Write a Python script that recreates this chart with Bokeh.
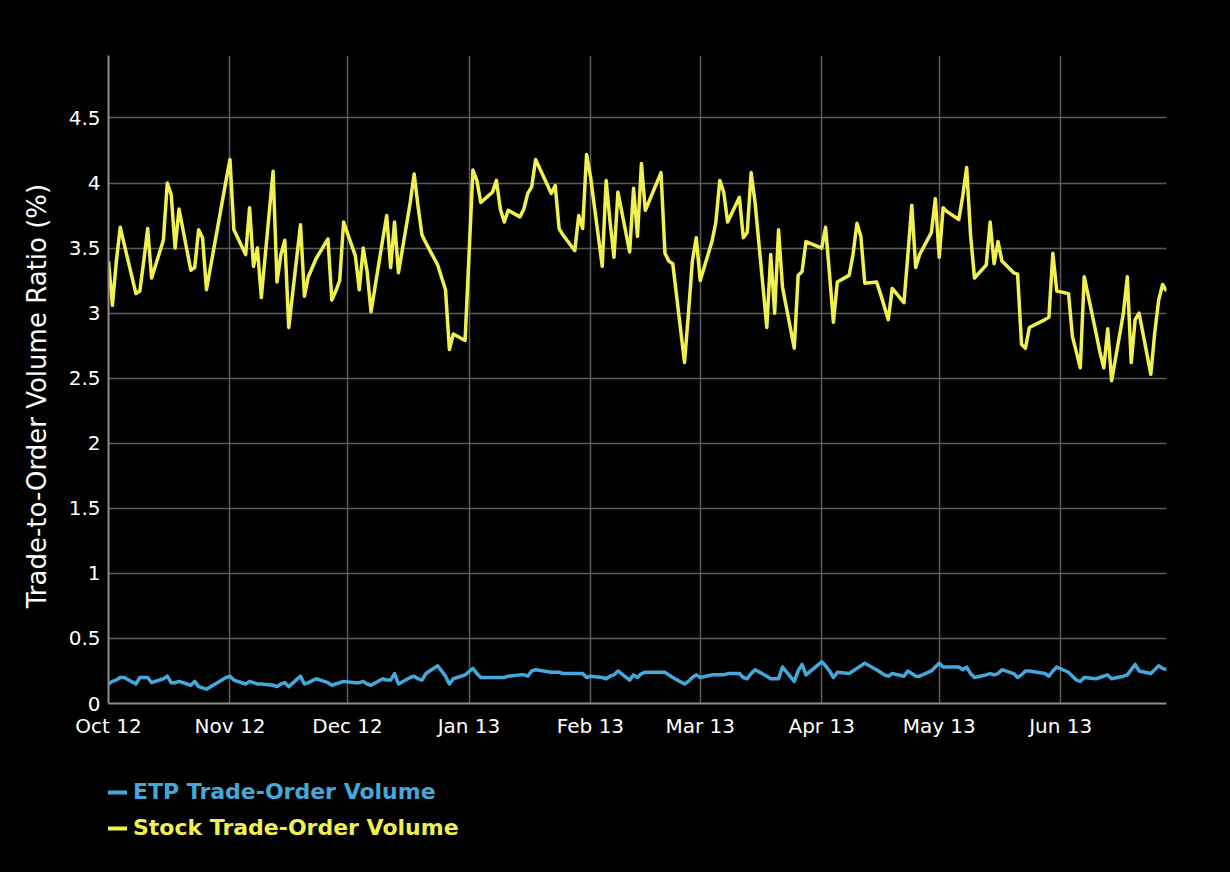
from datetime import datetime
import pandas as pd
from bokeh.plotting import figure
from bokeh.layouts import column
from bokeh.models import (Range1d, FixedTicker, CustomJSTickFormatter, Legend, LegendItem,
                          ColumnDataSource)
from bokeh.embed import file_html
from bokeh.resources import INLINE

# ---------------- data ----------------
closed_days = ["2012-10-29", "2012-10-30", "2012-11-22", "2012-12-25", "2013-01-01",
               "2013-01-21", "2013-02-18", "2013-03-29", "2013-05-27"]
trade_dates = [d for d in pd.bdate_range("2012-10-01", "2013-06-28")
               if d.strftime("%Y-%m-%d") not in closed_days]

stock_oct = [3.40, 3.06, 3.40, 3.66, 3.53, 3.15, 3.17, 3.40, 3.65, 3.27, 3.56, 4.00, 3.91, 3.50, 3.80,
             3.33, 3.35, 3.64, 3.58, 3.18, 4.02]
stock_nov = [4.18, 3.64, 3.45, 3.81, 3.36, 3.50, 3.12, 4.09, 3.24, 3.45, 3.56, 2.89, 3.68, 3.13, 3.28,
             3.42, 3.57, 3.10, 3.17, 3.25, 3.70]
stock_dec = [3.44, 3.18, 3.50, 3.32, 3.01, 3.57, 3.75, 3.35, 3.70, 3.31, 3.85, 4.07, 3.82, 3.60, 3.54,
             3.37, 3.18, 2.72, 2.84, 2.79]
stock_jan = [4.10, 4.02, 3.85, 3.93, 4.02, 3.80, 3.70, 3.79, 3.74, 3.80, 3.92, 3.97, 4.18, 3.92, 3.98,
             3.65, 3.60, 3.48, 3.75, 3.65, 4.22]
stock_feb = [4.05, 3.36, 4.02, 3.70, 3.43, 3.93, 3.47, 3.96, 3.59, 4.15, 3.79, 4.08, 3.46, 3.40, 3.38,
             2.62, 3.00, 3.40, 3.58]
stock_mar = [3.25, 3.55, 3.70, 4.02, 3.93, 3.70, 3.89, 3.58, 3.62, 4.08, 3.85, 2.89, 3.45, 3.00, 3.64,
             3.20, 2.73, 3.29, 3.32, 3.55]
stock_apr = [3.50, 3.66, 3.30, 2.93, 3.24, 3.29, 3.45, 3.69, 3.59, 3.23, 3.24, 3.15, 3.05, 2.95, 3.19,
             3.08, 3.45, 3.83, 3.35, 3.45, 3.62, 3.88]
stock_may = [3.43, 3.81, 3.78, 3.72, 3.90, 4.12, 3.60, 3.27, 3.37, 3.70, 3.38, 3.55, 3.40, 3.31, 3.30,
             2.76, 2.73, 2.89, 2.95, 2.97, 3.46, 3.17]
stock_jun = [3.15, 2.82, 2.70, 2.58, 3.28, 2.85, 2.70, 2.58, 2.88, 2.48, 3.00, 3.28, 2.62, 2.95, 3.00,
             2.53, 2.85, 3.10, 3.22, 3.17]

etp_oct = [0.15, 0.17, 0.18, 0.20, 0.20, 0.15, 0.20, 0.20, 0.20, 0.16, 0.19, 0.21, 0.16, 0.16, 0.17,
           0.14, 0.17, 0.13, 0.12, 0.11, 0.20]
etp_nov = [0.21, 0.18, 0.15, 0.17, 0.16, 0.15, 0.15, 0.14, 0.13, 0.15, 0.16, 0.13, 0.21, 0.15, 0.16,
           0.19, 0.16, 0.14, 0.15, 0.16, 0.17]
etp_dec = [0.16, 0.16, 0.17, 0.15, 0.14, 0.19, 0.18, 0.18, 0.23, 0.15, 0.20, 0.21, 0.19, 0.18, 0.23,
           0.29, 0.21, 0.15, 0.19, 0.22]
etp_jan = [0.27, 0.23, 0.20, 0.20, 0.20, 0.20, 0.20, 0.21, 0.22, 0.22, 0.21, 0.25, 0.26, 0.24, 0.24,
           0.24, 0.23, 0.23, 0.23, 0.23, 0.20]
etp_feb = [0.21, 0.20, 0.19, 0.21, 0.22, 0.25, 0.18, 0.22, 0.20, 0.23, 0.24, 0.24, 0.24, 0.22, 0.20,
           0.15, 0.17, 0.20, 0.22]
etp_mar = [0.20, 0.22, 0.22, 0.22, 0.22, 0.23, 0.23, 0.20, 0.19, 0.23, 0.26, 0.21, 0.19, 0.19, 0.19,
           0.28, 0.17, 0.25, 0.30, 0.22]
etp_apr = [0.32, 0.29, 0.25, 0.20, 0.24, 0.23, 0.25, 0.27, 0.29, 0.31, 0.26, 0.24, 0.22, 0.21, 0.23,
           0.21, 0.25, 0.23, 0.21, 0.21, 0.25, 0.28]
etp_may = [0.31, 0.28, 0.28, 0.28, 0.26, 0.28, 0.23, 0.20, 0.22, 0.23, 0.22, 0.23, 0.26, 0.23, 0.20,
           0.22, 0.25, 0.25, 0.23, 0.21, 0.25, 0.28]
etp_jun = [0.24, 0.21, 0.18, 0.17, 0.20, 0.19, 0.20, 0.21, 0.22, 0.19, 0.21, 0.22, 0.26, 0.30, 0.25,
           0.23, 0.26, 0.29, 0.27, 0.26]

stock_ratio = (stock_oct + stock_nov + stock_dec + stock_jan + stock_feb + stock_mar + stock_apr
               + stock_may + stock_jun)
etp_ratio = (etp_oct + etp_nov + etp_dec + etp_jan + etp_feb + etp_mar + etp_apr + etp_may + etp_jun)

month_starts = ["2012-10-01", "2012-11-01", "2012-12-01", "2013-01-01", "2013-02-01",
                "2013-03-01", "2013-04-01", "2013-05-01", "2013-06-01"]
month_labels = ["Oct 12", "Nov 12", "Dec 12", "Jan 13", "Feb 13", "Mar 13", "Apr 13", "May 13", "Jun 13"]
y_ticks = [0, 0.5, 1, 1.5, 2, 2.5, 3, 3.5, 4, 4.5]

series_names = ["ETP Trade-Order Volume", "Stock Trade-Order Volume"]
y_title = "Trade-to-Order Volume Ratio (%)"

# ---------------- styling ----------------
FONT = "DejaVu Sans"
YELLOW = "#f0f04e"
BLUE = "#45a8da"
GRID = "#5c5c5c"
AXIS = "#8e8e8e"
LINE_W = 3.5
BLACK_BG = {"background-color": "black"}

src = ColumnDataSource(dict(date=trade_dates, stock=stock_ratio, etp=etp_ratio))

p = figure(width=1230, height=760, x_axis_type="datetime", output_backend="svg",
           toolbar_location=None,
           x_range=Range1d(datetime(2012, 10, 1), datetime(2013, 6, 28)),
           y_range=Range1d(0, 4.98),
           min_border_left=108, min_border_right=64, min_border_top=55, min_border_bottom=57)
p.background_fill_color = "black"
p.border_fill_color = "black"
p.outline_line_color = None
p.styles = BLACK_BG

r_etp = p.line("date", "etp", source=src, line_color=BLUE, line_width=LINE_W, line_join="round")
r_stock = p.line("date", "stock", source=src, line_color=YELLOW, line_width=LINE_W, line_join="round")

tick_ms = [pd.Timestamp(m).timestamp() * 1000.0 for m in month_starts]
p.xaxis.ticker = FixedTicker(ticks=tick_ms)
p.xaxis.formatter = CustomJSTickFormatter(
    args=dict(month_ticks=tick_ms, month_names=month_labels),
    code="""
    for (let i = 0; i < month_ticks.length; i++) {
        if (Math.abs(month_ticks[i] - tick) < 1000) { return month_names[i]; }
    }
    return '';
    """)
p.yaxis.ticker = FixedTicker(ticks=y_ticks)
p.yaxis.formatter = CustomJSTickFormatter(code="return tick.toString();")

p.xgrid.ticker = FixedTicker(ticks=tick_ms)
p.ygrid.ticker = FixedTicker(ticks=y_ticks)
p.grid.grid_line_color = GRID
p.grid.grid_line_width = 1.5

for ax in (p.xaxis[0], p.yaxis[0]):
    ax.axis_line_color = AXIS
    ax.axis_line_width = 2
    ax.major_tick_line_color = None
    ax.minor_tick_line_color = None
    ax.major_tick_out = 0
    ax.major_tick_in = 0
    ax.major_label_text_color = "white"
    ax.major_label_text_font = FONT
    ax.major_label_text_font_size = "20px"

p.xaxis.major_label_standoff = 10
p.yaxis.major_label_standoff = 8
# non-breaking spaces at the end nudge the rotated title a little lower, as in the original
p.yaxis.axis_label = y_title + "\u00a0\u00a0\u00a0\u00a0"
p.yaxis.axis_label_text_color = "white"
p.yaxis.axis_label_text_font = FONT
p.yaxis.axis_label_text_font_size = "26px"
p.yaxis.axis_label_text_font_style = "normal"
p.yaxis.axis_label_standoff = 14

# ---------------- legend strip below the chart ----------------
leg = figure(width=1230, height=112, output_backend="svg", toolbar_location=None,
             x_axis_location=None, y_axis_location=None,
             x_range=Range1d(0, 1), y_range=Range1d(0, 1),
             min_border_left=108, min_border_right=64, min_border_top=0, min_border_bottom=0)
leg.background_fill_color = "black"
leg.border_fill_color = "black"
leg.outline_line_color = None
leg.xgrid.visible = False
leg.ygrid.visible = False
leg.styles = BLACK_BG

# legend-only renderers: one point placed outside the visible range, so nothing shows but the key
hidden_src = ColumnDataSource(dict(x=[-5.0], y=[-5.0]))
for name, color, vy in ((series_names[0], BLUE, 68), (series_names[1], YELLOW, 32)):
    swatch = leg.line("x", "y", source=hidden_src, line_color=color, line_width=4)
    lg = Legend(items=[LegendItem(label=name, renderers=[swatch])], location=(-3, vy),
                orientation="vertical", background_fill_alpha=0, border_line_color=None,
                label_text_font=FONT, label_text_font_style="bold", label_text_font_size="22px",
                label_text_color=color, glyph_width=22, glyph_height=20, label_height=20,
                padding=0, margin=0, label_standoff=6, spacing=0)
    leg.add_layout(lg)

layout = column(p, leg, spacing=0, styles=BLACK_BG)
open("out.html", "w").write(file_html(layout, INLINE))
